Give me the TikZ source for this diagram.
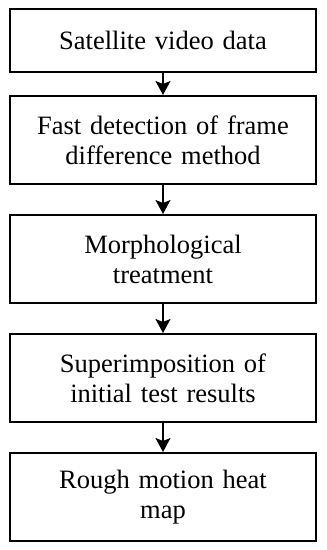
\documentclass[tikz,border=0pt]{standalone}
\usepackage{fontspec}
\setmainfont{Liberation Serif}
\usetikzlibrary{arrows.meta, positioning}

\begin{document}
\begin{tikzpicture}[
    x=1pt, y=1pt,
    node distance=29pt,
    block/.style={rectangle, draw=black, line width=1.8pt, minimum width=306.2pt, text width=290pt, align=center, minimum height=88.2pt, inner sep=0pt, font=\fontsize{26.5}{30}\selectfont},
    arrow/.style={-{Stealth[length=14pt, width=15pt, inset=3pt]}, line width=1.5pt}
]
\useasboundingbox (0,0) rectangle (327,-550);
\node[block, minimum height=63.2pt] (video) at (163,-40.5) {Satellite video data};
\node[block, below=22pt of video] (detect) {Fast detection of frame\\difference method};
\node[block, below=of detect] (morph) {Morphological\\treatment};
\node[block, below=of morph] (superimp) {Superimposition of\\initial test results};
\node[block, below=of superimp] (heatmap) {Rough motion heat\\map};
\draw[arrow] (video) -- (detect);
\draw[arrow] (detect) -- (morph);
\draw[arrow] (morph) -- (superimp);
\draw[arrow] (superimp) -- (heatmap);
\end{tikzpicture}
\end{document}
